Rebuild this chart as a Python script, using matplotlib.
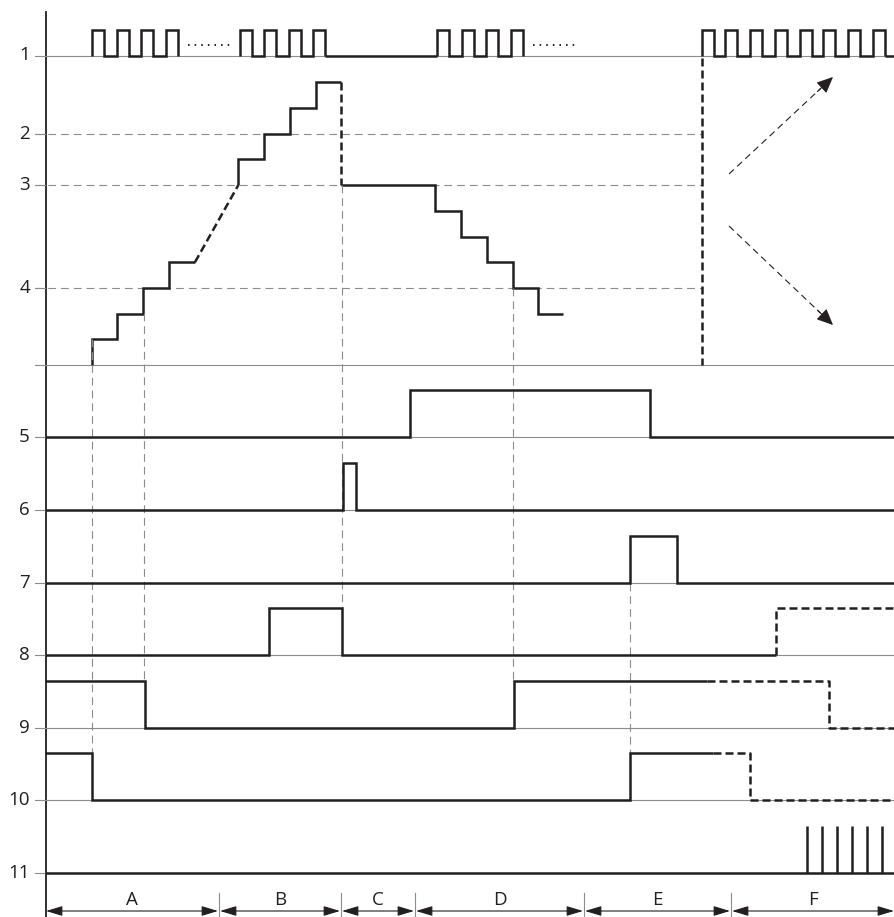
import matplotlib.pyplot as plt

INK = '#231f20'
GREY = '#8c8c8c'

# row labels and baselines (figure pixels, y down)
row_labels = ['1', '5', '6', '7', '8', '9', '10', '11']
row_y = [55.5, 437, 510, 583, 655, 728, 800, 873]
high = 47            # height of a "1" level for the digital rows

# row 1: count pulses, rising edges per burst
pulse_groups = [[91.7, 116.7, 141, 165.7],
                [240, 264, 289, 313],
                [437, 461.7, 485.7, 510.7],
                [701.7, 725, 750, 775, 800, 823, 848, 873]]
pulse_width = 12.3
pulse_high = 30
dotted_gaps = [(188, 230), (533, 577)]

# actual counter value (staircase)
count_floor = 365
count_step = 25.7
up1_t = [91.7, 117.3, 143.3, 169, 195]
up1_v = [1, 2, 3, 4]
up2_t = [238.3, 264.3, 290, 315.7, 340.7]
up2_v = [8, 9, 10, 11]
down_t = [340.7, 435, 461, 486.7, 512.7, 537.7, 563.3]
down_v = [7, 6, 5, 4, 3, 2]
limit_labels = ['2', '3', '4']
limit_values = [9, 7, 3]

# digital outputs: edge times and states
out5_t, out5_s = [45, 410.5, 650, 895], [0, 1, 0]
out6_t, out6_s = [45, 343, 356, 895], [0, 1, 0]
out7_t, out7_s = [45, 630, 677.3, 895], [0, 1, 0]
out8_t, out8_s = [45, 268.7, 342.3, 775.7], [0, 1, 0]
out8d_t, out8d_s = [775.7, 895], [1]
out9_t, out9_s = [45, 145, 514, 706.7], [1, 0, 1]
out9d_t, out9d_s = [706.7, 829.3, 895], [1, 0]
out10_t, out10_s = [45, 92, 630, 713.3], [1, 0, 1]
out10d_t, out10d_s = [713.3, 750, 895], [1, 0]
out11_pulses = [806.7, 821.7, 836.7, 851.7, 866.7, 882.3]

# vertical guide lines: x, top, bottom
guides = [(92, 339, 754), (144, 313, 681), (342.5, 185, 608),
          (513.5, 288, 681), (630, 583, 754)]

# phases along the bottom
phase_edges = [45, 219, 341, 415, 584, 731, 895]
phase_labels = ['A', 'B', 'C', 'D', 'E', 'F']


def cy(v):
    return count_floor - v * count_step


def steps(t, s, y0, start=None):
    xs, ys = [], []
    if start is not None:
        xs.append(t[0]); ys.append(y0 - start * high)
    for i, st in enumerate(s):
        xs += [t[i], t[i + 1]]
        ys += [y0 - st * high] * 2
    return xs, ys


def stairs(t, v, v0):
    xs, ys = [t[0]], [cy(v0)]
    for i, val in enumerate(v):
        xs += [t[i], t[i + 1]]
        ys += [cy(val)] * 2
    return xs, ys


fig = plt.figure(figsize=(8.95, 9.17), dpi=100)
ax = fig.add_axes([0, 0, 1, 1])
ax.set_xlim(0, 895)
ax.set_ylim(917, 0)
ax.axis('off')

thick = dict(color=INK, lw=1.8, solid_capstyle='butt', solid_joinstyle='miter')
thin = dict(color=GREY, lw=0.8)
thin_dash = dict(color=GREY, lw=0.8, dashes=(7, 4.5))
thick_dash = dict(color=INK, lw=1.8, dashes=(3.2, 1.6))
font = dict(fontsize=13.5, family='Open Sans', color=INK)

# axis and labels
ax.plot([45.7, 45.7], [12, 917], color=INK, lw=1.3)
for lab, y in zip(row_labels, row_y):
    ax.plot([35, 895], [y, y], **thin)
    ax.text(30, y, lab, ha='right', va='center', **font)
for lab, v in zip(limit_labels, limit_values):
    ax.plot([35, 702], [cy(v), cy(v)], **thin_dash)
    ax.plot([35, 45], [cy(v), cy(v)], **thin)
    ax.text(30, cy(v), lab, ha='right', va='center', **font)
ax.plot([35, 895], [count_floor, count_floor], **thin)

# row 1 pulses
for g in pulse_groups:
    xs, ys = [], []
    for r in g:
        xs += [r, r, r + pulse_width, r + pulse_width]
        ys += [row_y[0], pulse_high, pulse_high, row_y[0]]
    ax.plot(xs, ys, **thick)
ax.plot([pulse_groups[1][-1] + pulse_width, pulse_groups[2][0]], [row_y[0]] * 2, **thick)
ax.plot([pulse_groups[3][-1] + pulse_width, 895], [row_y[0]] * 2, **thick)
for a, b in dotted_gaps:
    ax.plot([a, b], [45, 45], color=INK, lw=1.4, dashes=(0.8, 2.6))

# counter staircase
xs, ys = stairs(up1_t, up1_v, 0)
ax.plot(xs, ys, **thick)
ax.plot([up1_t[-1], up2_t[0]], [cy(up1_v[-1]), cy(7)], **thick_dash)
xs, ys = stairs(up2_t, up2_v, 7)
ax.plot(xs, ys, **thick)
ax.plot([up2_t[-1], up2_t[-1]], [cy(up2_v[-1]), cy(down_v[0])], **thick_dash)
xs, ys = stairs(down_t, down_v, down_v[0])
ax.plot(xs[1:], ys[1:], **thick)

# big dashed line and direction arrows
ax.plot([702, 702], [58, 365], **thick_dash)
for (x0, y0), (x1, y1) in [((729, 174), (833, 77)), ((729, 226), (833, 325))]:
    ax.plot([x0, x0 + 0.88 * (x1 - x0)], [y0, y0 + 0.88 * (y1 - y0)],
            color=INK, lw=0.8, dashes=(6, 4))
    ax.annotate('', xy=(x1, y1), xytext=(x0 + 0.85 * (x1 - x0), y0 + 0.85 * (y1 - y0)),
                arrowprops=dict(arrowstyle='-|>,head_length=1.0,head_width=0.45',
                                color=INK, lw=0.8, mutation_scale=10,
                                shrinkA=0, shrinkB=0))

# guide lines
for x, y0, y1 in guides:
    ax.plot([x, x], [y0, y1], **thin_dash)

# digital outputs
for (t, s), y0 in zip([(out5_t, out5_s), (out6_t, out6_s), (out7_t, out7_s),
                       (out8_t, out8_s), (out9_t, out9_s), (out10_t, out10_s)],
                      row_y[1:7]):
    xs, ys = steps(t, s, y0)
    ax.plot(xs, ys, **thick)
for (t, s, st), y0 in zip([(out8d_t, out8d_s, 0), (out9d_t, out9d_s, 1),
                           (out10d_t, out10d_s, 1)], row_y[4:7]):
    xs, ys = steps(t, s, y0, start=st)
    ax.plot(xs, ys, **thick_dash)
ax.plot([45, 895], [row_y[7], row_y[7]], **thick)
for x in out11_pulses:
    ax.plot([x, x], [row_y[7], row_y[7] - high], **thick)

# phases
for x in phase_edges[1:-1]:
    ax.plot([x, x], [893, 917], **thin)
for a, b, lab in zip(phase_edges[:-1], phase_edges[1:], phase_labels):
    ax.annotate('', xy=(b - 1, 911), xytext=(a + 1, 911),
                arrowprops=dict(arrowstyle='<|-|>,head_length=1.0,head_width=0.3',
                                color=INK, lw=0.8, mutation_scale=10,
                                shrinkA=0, shrinkB=0))
    ax.text((a + b) / 2, 900, lab, ha='center', va='center', **font)

fig.savefig('out.png', dpi=100)
